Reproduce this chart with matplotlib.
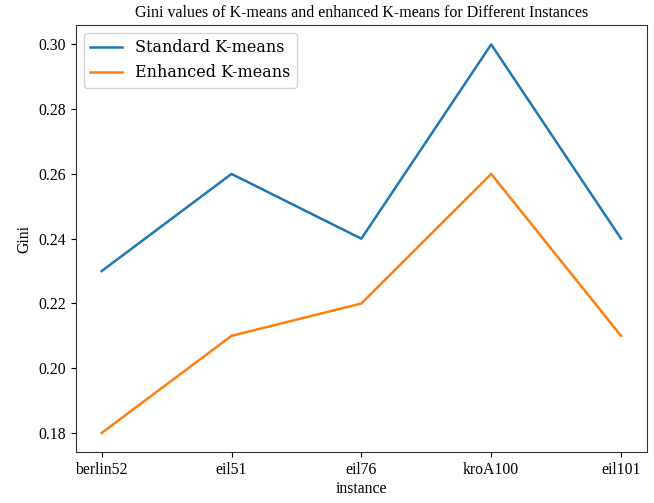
import matplotlib
matplotlib.use("Agg")
import matplotlib.pyplot as plt

instances = ["berlin52", "eil51", "eil76", "kroA100", "eil101"]
standard = [0.23, 0.26, 0.24, 0.30, 0.24]
enhanced = [0.18, 0.21, 0.22, 0.26, 0.21]
yticks = [0.18, 0.20, 0.22, 0.24, 0.26, 0.28, 0.30]

plt.rcParams['font.family'] = ['Liberation Serif', 'DejaVu Serif']
fig = plt.figure(figsize=(6.54, 5.03), dpi=100)
ax = fig.add_axes([75.7/654, 1-452.4/503, (647-75.7)/654, (452.4-25)/503])
ax.plot(instances, standard, color='#1f77b4', lw=1.8, label='Standard K-means')
ax.plot(instances, enhanced, color='#ff7f0e', lw=1.8, label='Enhanced K-means')
ax.set_yticks(yticks)
ax.set_yticklabels([f"{v:.2f}" for v in yticks])
ax.tick_params(labelsize=11.3)
for s in ax.spines.values():
    s.set_color('#333333')
ax.set_xlabel('instance', fontsize=11.3, labelpad=2)
ax.set_ylabel('Gini', fontsize=11.3)
ax.set_title('Gini values of K-means and enhanced K-means for Different Instances', fontsize=11.5)
ax.legend(loc='upper left', prop={'family': 'DejaVu Serif', 'size': 11.5})
fig.savefig('out.png', dpi=100)
